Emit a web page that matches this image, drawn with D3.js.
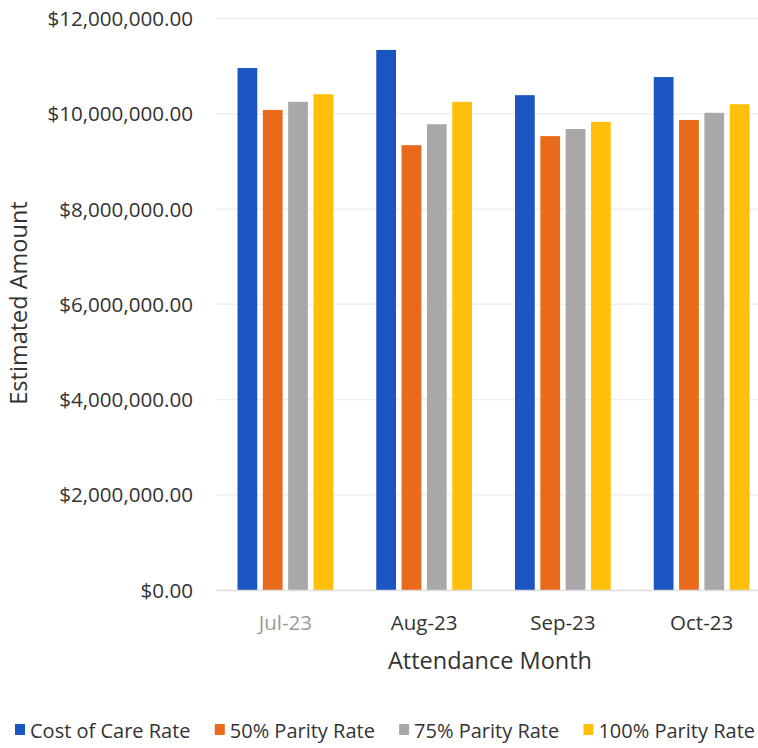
<!DOCTYPE html>
<html>
<head>
<meta charset="utf-8">
<script src="https://cdn.jsdelivr.net/npm/d3@7"></script>
<style>
body{ margin:0; background:#fff; }
text{ font-family:"Open Sans", sans-serif; }
</style>
</head>
<body>
<script>
// data
var months = ["Jul-23", "Aug-23", "Sep-23", "Oct-23"];
var seriesNames = ["Cost of Care Rate", "50% Parity Rate", "75% Parity Rate", "100% Parity Rate"];
var costOfCare = [10960000, 11340000, 10390000, 10770000];
var parity50 = [10080000, 9340000, 9530000, 9870000];
var parity75 = [10250000, 9780000, 9680000, 10020000];
var parity100 = [10410000, 10250000, 9830000, 10200000];
var yTicks = [0, 2000000, 4000000, 6000000, 8000000, 10000000, 12000000];
var colors = ["#1a55c2", "#ea6a1c", "#a8a8a8", "#ffbf0a"];

var allSeries = [costOfCare, parity50, parity75, parity100];
var data = months.map(function(m, i){
  return {month: m, values: allSeries.map(function(s, j){ return {key: j, v: s[i]}; })};
});

var width = 758, height = 748;
var svg = d3.select("body").append("svg").attr("width", width).attr("height", height);

var x0 = d3.scaleBand().domain(months).range([216, 771]).paddingInner(0.31).paddingOuter(0.155);
var x1 = d3.scaleBand().domain([0,1,2,3]).range([0, x0.bandwidth()]).paddingInner(0.22);
var y = d3.scaleLinear().domain([0, 12000000]).range([590, 18.5]);

// gridlines
svg.append("g").selectAll("line").data(yTicks.slice(1)).enter().append("line")
  .attr("x1", 216).attr("x2", width).attr("y1", d => y(d)).attr("y2", d => y(d))
  .attr("stroke", "#f0f0f0").attr("stroke-width", 1.5);

var fmt = d3.format("$,.2f");
var yAxis = d3.axisLeft(y).tickValues(yTicks).tickFormat(fmt).tickSize(0).tickPadding(0);
var yAxisG = svg.append("g").attr("transform", "translate(193,0)").call(yAxis);
yAxisG.select(".domain").remove();
yAxisG.selectAll("text").attr("font-size", 20.6).attr("fill", "#333").attr("dy", "0.35em")
  .style("font-family", "'Open Sans', sans-serif");

// bars
var groups = svg.append("g").selectAll("g").data(data).enter().append("g")
  .attr("transform", d => "translate(" + x0(d.month) + ",0)");
groups.selectAll("rect").data(d => d.values).enter().append("rect")
  .attr("x", d => x1(d.key)).attr("width", x1.bandwidth())
  .attr("y", d => y(d.v)).attr("height", d => y(0) - y(d.v))
  .attr("fill", d => colors[d.key]);

// baseline
svg.append("line").attr("x1", 216).attr("x2", width).attr("y1", 590.5).attr("y2", 590.5)
  .attr("stroke", "#dddddd").attr("stroke-width", 1.5);

var xAxis = d3.axisBottom(x0).tickSize(0).tickPadding(0);
var xAxisG = svg.append("g").attr("transform", "translate(0,630)").call(xAxis);
xAxisG.select(".domain").remove();
xAxisG.selectAll("text").attr("font-size", 20.5).attr("dy", 0)
  .attr("fill", (d, i) => i == 0 ? "#9a9a9a" : "#333")
  .style("font-family", "'Open Sans', sans-serif");

// axis titles
svg.append("text").attr("x", 490).attr("y", 669).attr("text-anchor", "middle")
  .attr("font-size", 23.5).attr("fill", "#333").text("Attendance Month");
svg.append("text").attr("transform", "translate(27,303) rotate(-90)").attr("text-anchor", "middle")
  .attr("font-size", 23.5).attr("fill", "#333").text("Estimated Amount");

// legend - laid out in a row from x=15 to x=755
var legend = svg.append("g").selectAll("g").data(seriesNames).enter().append("g");
legend.append("rect").attr("x", 0).attr("y", -7).attr("width", 10).attr("height", 11)
  .attr("fill", (d, i) => colors[i]);
var ltext = legend.append("text").attr("x", 15).attr("y", 7).attr("font-size", 20).attr("fill", "#333").text(d => d);
var widths = [];
ltext.each(function(){ widths.push(15 + this.getComputedTextLength()); });
var gap = (740 - d3.sum(widths)) / 3;
var pos = 15;
legend.each(function(d, i){
  d3.select(this).attr("transform", "translate(" + pos + ",731)");
  pos += widths[i] + gap;
});
</script>
</body>
</html>
